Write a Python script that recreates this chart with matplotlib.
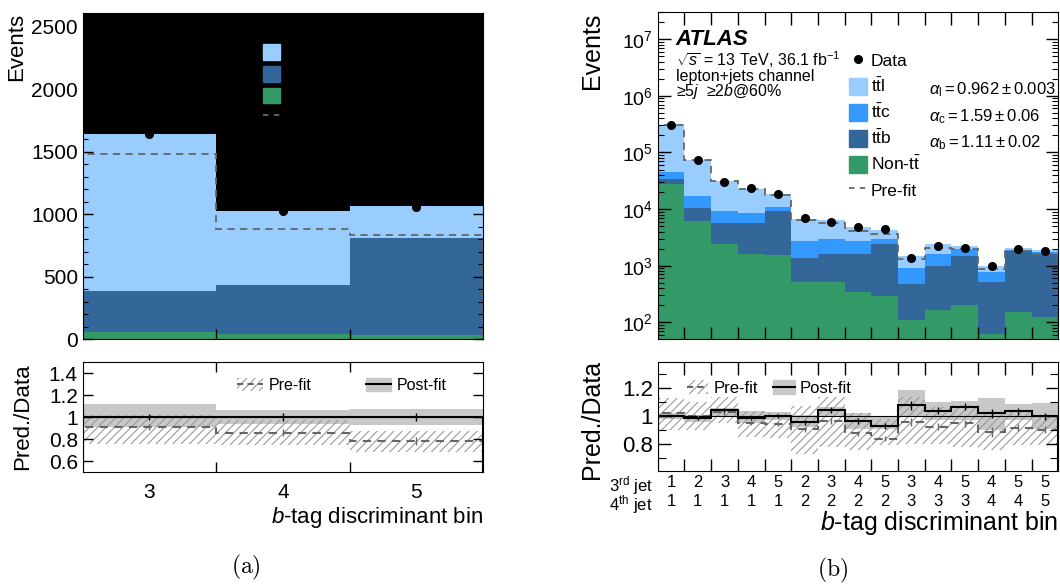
import matplotlib
matplotlib.use("Agg")
import matplotlib.pyplot as plt
from matplotlib.patches import Patch
from matplotlib.lines import Line2D

plt.rcParams['font.family'] = ['Liberation Sans', 'DejaVu Sans']
plt.rcParams['mathtext.fontset'] = 'custom'
plt.rcParams['mathtext.rm'] = 'Liberation Sans'
plt.rcParams['mathtext.it'] = 'Liberation Sans:italic'
plt.rcParams['mathtext.bf'] = 'Liberation Sans:bold'
plt.rcParams['hatch.linewidth'] = 0.8
plt.rcParams['hatch.color'] = '#9a9a9a'

# ---- panel (a): single b-tag discriminant bin ----
bins_a = [3, 4, 5]
nontt_a = [58, 40, 32]
ttb_a = [329, 395, 776]
ttl_a = [1250, 592, 261]
prefit_a = [1477, 880, 837]
data_a = [1640, 1023, 1060]
data_err_a = [40, 32, 33]

ratio_post_a = [1.0, 1.0, 1.0]
ratio_pre_a = [0.909, 0.858, 0.785]
ratio_err_a = [0.03, 0.035, 0.035]
post_lo_a = [0.91, 0.933, 0.924]
post_hi_a = [1.115, 1.06, 1.07]
pre_lo_a = [0.758, 0.742, 0.68]
pre_hi_a = [1.015, 0.97, 0.87]

# ---- panel (b): 3rd / 4th jet b-tag bins ----
jet3 = [1, 2, 3, 4, 5, 2, 3, 4, 5, 3, 4, 5, 4, 5, 5]
jet4 = [1, 1, 1, 1, 1, 2, 2, 2, 2, 3, 3, 3, 4, 4, 5]
nontt_b = [27300, 6050, 2440, 1600, 1530, 525, 505, 349, 297, 110, 168, 198, 62, 149, 126]
ttb_b = [6300, 4350, 3210, 4050, 7570, 835, 1125, 1231, 2073, 361, 812, 1312, 448, 1661, 1504]
ttc_b = [11400, 6400, 3450, 2850, 1700, 1340, 1370, 1100, 630, 447, 600, 430, 270, 100, 110]
ttl_b = [265000, 56200, 22200, 14500, 8000, 4060, 3300, 2070, 1200, 592, 790, 270, 200, 160, 120]
prefit_b = [306000, 73000, 30800, 22400, 17400, 6370, 5600, 4160, 3660, 1320, 2040, 1960, 870, 1830, 1600]
data_b = [300000, 73000, 30000, 23500, 18500, 7050, 5800, 4750, 4370, 1380, 2210, 2070, 980, 2000, 1780]

ratio_post_b = [1.0, 0.983, 1.043, 0.983, 1.0, 0.955, 1.043, 0.966, 0.928, 1.077, 1.038, 1.067, 1.019, 1.034, 1.0]
ratio_pre_b = [1.019, 1.0, 1.026, 0.952, 0.942, 0.904, 0.966, 0.875, 0.837, 0.957, 0.923, 0.947, 0.887, 0.916, 0.9]
ratio_err_b = [0.005, 0.01, 0.015, 0.015, 0.015, 0.02, 0.02, 0.02, 0.02, 0.03, 0.025, 0.025, 0.035, 0.025, 0.025]
post_lo_b = [0.98, 0.96, 0.995, 0.952, 0.97, 0.92, 0.995, 0.91, 0.91, 0.995, 0.97, 0.97, 0.90, 0.97, 0.91]
post_hi_b = [1.02, 1.007, 1.055, 1.036, 1.03, 1.007, 1.067, 1.02, 0.995, 1.187, 1.10, 1.108, 1.13, 1.086, 1.096]
pre_lo_b = [0.9, 0.9, 0.95, 0.85, 0.84, 0.73, 0.78, 0.755, 0.79, 0.8, 0.8, 0.78, 0.755, 0.79, 0.79]
pre_hi_b = [1.127, 1.1, 1.14, 1.036, 1.02, 1.07, 1.14, 1.02, 0.98, 1.14, 1.067, 1.08, 1.02, 1.03, 1.0]

c_ttl = '#99ccff'
c_ttc = '#3399ff'
c_ttb = '#336699'
c_non = '#339966'
c_band = '#c8c8c8'
c_pre = '#666666'

lab_ttl = r't$\bar{\rm t}$l'
lab_ttc = r't$\bar{\rm t}$c'
lab_ttb = r't$\bar{\rm t}$b'
lab_non = r'Non-t$\bar{\rm t}$'


def ticks_in(ax, length=7, mlength=3.5, size=14):
    ax.tick_params(which='both', direction='in', top=True, right=True, labelsize=size)
    ax.tick_params(which='major', length=length, width=1)
    ax.tick_params(which='minor', length=mlength, width=0.8)


def stack(ax, x, comps, cols):
    base = [0.0] * len(x)
    for vals, col in zip(comps, cols):
        ax.bar(x, vals, width=1.0, bottom=base, color=col, linewidth=0)
        base = [b + v for b, v in zip(base, vals)]


def ratio_panel(ax, x, edges, post, pre, err, plo, phi, prlo, prhi):
    ax.bar(x, [h - l for h, l in zip(phi, plo)], width=1.0, bottom=plo,
           color=c_band, linewidth=0)
    ax.bar(x, [h - l for h, l in zip(prhi, prlo)], width=1.0, bottom=prlo,
           fill=False, hatch='////', edgecolor='#9a9a9a', linewidth=0)
    ax.axhline(1.0, color='k', lw=0.8)
    ax.stairs(pre, edges, color=c_pre, lw=1.5, ls=(0, (4, 3)))
    ax.errorbar(x, pre, yerr=err, fmt='none', ecolor=c_pre, elinewidth=1)
    ax.stairs(post, edges, color='k', lw=1.5)
    ax.errorbar(x, post, yerr=err, fmt='none', ecolor='k', elinewidth=1)


fig = plt.figure(figsize=(10.6, 5.86), dpi=100)

# ================= (a) =================
edges_a = [b - 0.5 for b in bins_a] + [bins_a[-1] + 0.5]
ax1 = fig.add_axes([0.078, 0.421, 0.3777, 0.5573])
ax1.set_facecolor('black')
stack(ax1, bins_a, [nontt_a, ttb_a, ttl_a], [c_non, c_ttb, c_ttl])
ax1.stairs(prefit_a, edges_a, color=c_pre, lw=1.3, ls=(0, (4, 3)))
ax1.errorbar(bins_a, data_a, yerr=data_err_a, fmt='o', color='k', ms=5.5, elinewidth=1.2)
ax1.set_xlim(2.5, 5.5)
ax1.set_ylim(0, 2610)
ax1.set_yticks([0, 500, 1000, 1500, 2000, 2500])
ax1.set_yticks(range(0, 2601, 100), minor=True)
ax1.set_xticks(edges_a[1:-1])
ax1.set_xticklabels([])
ticks_in(ax1, size=15)
ax1.set_ylabel('Events', fontsize=16, loc='top')
ax1.yaxis.set_label_coords(-0.139, 1.0)
h_a = [Line2D([], [], marker='o', color='k', ls='none', ms=5.5),
       Patch(color=c_ttl), Patch(color=c_ttb), Patch(color=c_non),
       Line2D([], [], color=c_pre, ls=(0, (3, 3)), lw=1.3)]
ax1.legend(h_a, ['Data', lab_ttl, lab_ttb, lab_non, 'Pre-fit'], frameon=False,
           loc='upper left', bbox_to_anchor=(0.415, 1.012), fontsize=11,
           handlelength=1.15, handleheight=1.15, labelspacing=0.33,
           handletextpad=0.3, labelcolor='black')

ax2 = fig.add_axes([0.078, 0.1945, 0.3777, 0.1877])
ratio_panel(ax2, bins_a, edges_a, ratio_post_a, ratio_pre_a, ratio_err_a,
            post_lo_a, post_hi_a, pre_lo_a, pre_hi_a)
ax2.set_xlim(2.5, 5.5)
ax2.set_ylim(0.5, 1.5)
ax2.set_yticks([0.6, 0.8, 1.0, 1.2, 1.4])
ax2.set_yticklabels(['0.6', '0.8', '1', '1.2', '1.4'])
ax2.set_xticks(edges_a[1:-1])
ax2.set_xticklabels([])
ax2.set_xticks(bins_a, labels=[str(b) for b in bins_a], minor=True)
ticks_in(ax2, size=15)
ax2.tick_params(axis='x', which='minor', length=0, labelsize=15, pad=8)
ax2.set_ylabel('Pred./Data', fontsize=16)
ax2.yaxis.set_label_coords(-0.124, 0.5)
ax2.set_xlabel(r'$b$-tag discriminant bin', fontsize=16, loc='right', labelpad=2)
hr_a = [(Patch(facecolor='none', edgecolor='#9a9a9a', hatch='////', lw=0),
         Line2D([], [], color=c_pre, ls=(0, (3, 2)), lw=1.5)),
        (Patch(color=c_band), Line2D([], [], color='k', lw=1.5))]
ax2.legend(hr_a, ['Pre-fit', 'Post-fit'], ncol=2, frameon=False, loc='upper left',
           bbox_to_anchor=(0.35, 0.985), fontsize=11.5, handlelength=1.6,
           handleheight=0.9, handletextpad=0.35, columnspacing=3.4)

# ================= (b) =================
x_b = list(range(1, len(data_b) + 1))
edges_b = [v - 0.5 for v in x_b] + [x_b[-1] + 0.5]
ax3 = fig.add_axes([0.6205, 0.421, 0.3779, 0.558])
stack(ax3, x_b, [nontt_b, ttb_b, ttc_b, ttl_b], [c_non, c_ttb, c_ttc, c_ttl])
ax3.stairs(prefit_b, edges_b, color=c_pre, lw=1.3, ls=(0, (4, 3)))
ax3.errorbar(x_b, data_b, fmt='o', color='k', ms=5.5)
ax3.set_yscale('log')
ax3.set_xlim(0.5, 15.5)
ax3.set_ylim(50, 3e7)
ax3.set_xticks(edges_b[1:-1])
ax3.set_xticklabels([])
ticks_in(ax3, length=9, mlength=4.5, size=14)
ax3.set_ylabel('Events', fontsize=18, loc='top')
ax3.yaxis.set_label_coords(-0.134, 1.0)
ax3.text(0.045, 0.918, 'ATLAS', transform=ax3.transAxes, fontsize=16,
         fontweight='bold', fontstyle='italic', va='center')
ax3.text(0.045, 0.855, r'$\sqrt{s}$ = 13 TeV, 36.1 fb$^{-1}$', transform=ax3.transAxes,
         fontsize=11.5, va='center')
ax3.text(0.045, 0.804, 'lepton+jets channel', transform=ax3.transAxes,
         fontsize=11.5, va='center')
ax3.text(0.045, 0.757, r'≥5$j$  ≥2$b$@60%', transform=ax3.transAxes,
         fontsize=11.5, va='center')
h_b = [Line2D([], [], marker='o', color='k', ls='none', ms=5.5),
       Patch(color=c_ttl), Patch(color=c_ttc), Patch(color=c_ttb), Patch(color=c_non),
       Line2D([], [], color=c_pre, ls=(0, (3, 3)), lw=1.3)]
ax3.legend(h_b, ['Data', lab_ttl, lab_ttc, lab_ttb, lab_non, 'Pre-fit'], frameon=False,
           loc='upper left', bbox_to_anchor=(0.46, 0.9), fontsize=12.5,
           handlelength=1.05, handleheight=1.1, labelspacing=0.45,
           handletextpad=0.2, borderaxespad=0)
alphas = [r'$\alpha_{\rm l} = 0.962 \pm 0.003$', r'$\alpha_{\rm c} = 1.59 \pm 0.06$',
          r'$\alpha_{\rm b} = 1.11 \pm 0.02$']
for i, s in enumerate(alphas):
    ax3.text(0.677, 0.762 - i * 0.0805, s, transform=ax3.transAxes, fontsize=12,
             va='center')

ax4 = fig.add_axes([0.6205, 0.1968, 0.3779, 0.1855])
ratio_panel(ax4, x_b, edges_b, ratio_post_b, ratio_pre_b, ratio_err_b,
            post_lo_b, post_hi_b, pre_lo_b, pre_hi_b)
ax4.set_xlim(0.5, 15.5)
ax4.set_ylim(0.607, 1.389)
ax4.set_yticks([0.8, 1.0, 1.2])
ax4.set_yticklabels(['0.8', '1', '1.2'])
ax4.set_yticks([0.7, 0.9, 1.1, 1.3], minor=True)
ax4.set_xticks(edges_b[1:-1])
ax4.set_xticklabels([])
ax4.set_xticks(x_b, labels=[f'{a}\n{b}' for a, b in zip(jet3, jet4)], minor=True)
ticks_in(ax4, length=9, mlength=6, size=16)
ax4.tick_params(axis='x', which='minor', length=0, labelsize=12, pad=3)
for lab in ax4.get_xticklabels(minor=True):
    lab.set_linespacing(1.35)
ax4.set_ylabel('Pred./Data', fontsize=18)
ax4.yaxis.set_label_coords(-0.134, 0.47)
ax4.set_xlabel(r'$b$-tag discriminant bin', fontsize=18, loc='right', labelpad=0)
# row captions for the two-line tick labels
ax4.text(-0.012, -0.03, '3$^{\\rm rd}$ jet\n4$^{\\rm th}$ jet', transform=ax4.transAxes,
         fontsize=12, ha='right', va='top', multialignment='right', linespacing=0.8)
hr_b = [(Patch(facecolor='none', edgecolor='#9a9a9a', hatch='////', lw=0),
         Line2D([], [], color=c_pre, ls=(0, (3, 2)), lw=1.5)),
        (Patch(color=c_band), Line2D([], [], color='k', lw=1.5))]
ax4.legend(hr_b, ['Pre-fit', 'Post-fit'], ncol=2, frameon=False, loc='upper left',
           bbox_to_anchor=(0.035, 0.97), fontsize=12, handlelength=1.3,
           handleheight=0.9, handletextpad=0.3, columnspacing=0.9)

fig.text(246 / 1060, 1 - 567 / 586, r'$\mathrm{(a)}$', fontsize=17, ha='center',
         va='center', math_fontfamily='cm')
fig.text(833 / 1060, 1 - 570 / 586, r'$\mathrm{(b)}$', fontsize=17, ha='center',
         va='center', math_fontfamily='cm')

fig.savefig('out.png', dpi=100)
